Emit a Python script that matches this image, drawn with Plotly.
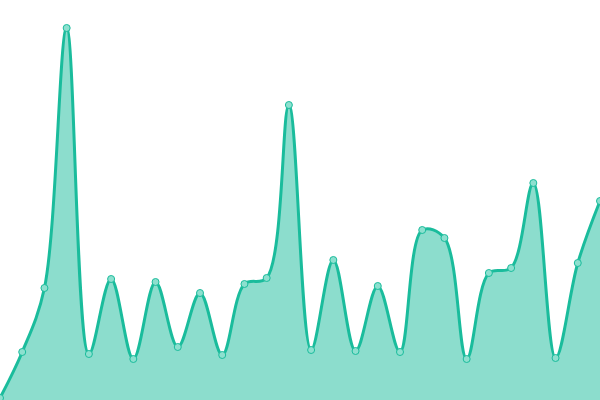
import plotly.graph_objects as go

x = list(range(28))
values = [2, 48, 112, 372, 46, 121, 41, 118, 53, 107, 45, 116, 122, 295, 50,
          140, 49, 114, 48, 170, 162, 41, 127, 132, 217, 42, 137, 199]

fig = go.Figure()
fig.add_trace(go.Scatter(
    x=x, y=values,
    mode="lines+markers",
    fill="tozeroy",
    fillcolor="rgba(26,188,156,0.5)",
    line=dict(color="#1abc9c", width=3, shape="spline", smoothing=1),
    marker=dict(size=7, color="#8de0cf", line=dict(color="#1abc9c", width=1)),
    cliponaxis=False,
    hoverinfo="x+y",
))

fig.update_layout(
    width=600, height=400,
    margin=dict(l=0, r=0, t=0, b=0),
    paper_bgcolor="white", plot_bgcolor="white",
    showlegend=False,
    xaxis=dict(range=[0, 27], visible=False, fixedrange=True),
    yaxis=dict(range=[0, 400], visible=False, fixedrange=True),
)

# drop the default page margin so the chart fills the window
fig.write_html("out.html", config={"displayModeBar": False},
               post_script="document.body.style.margin='0';")
